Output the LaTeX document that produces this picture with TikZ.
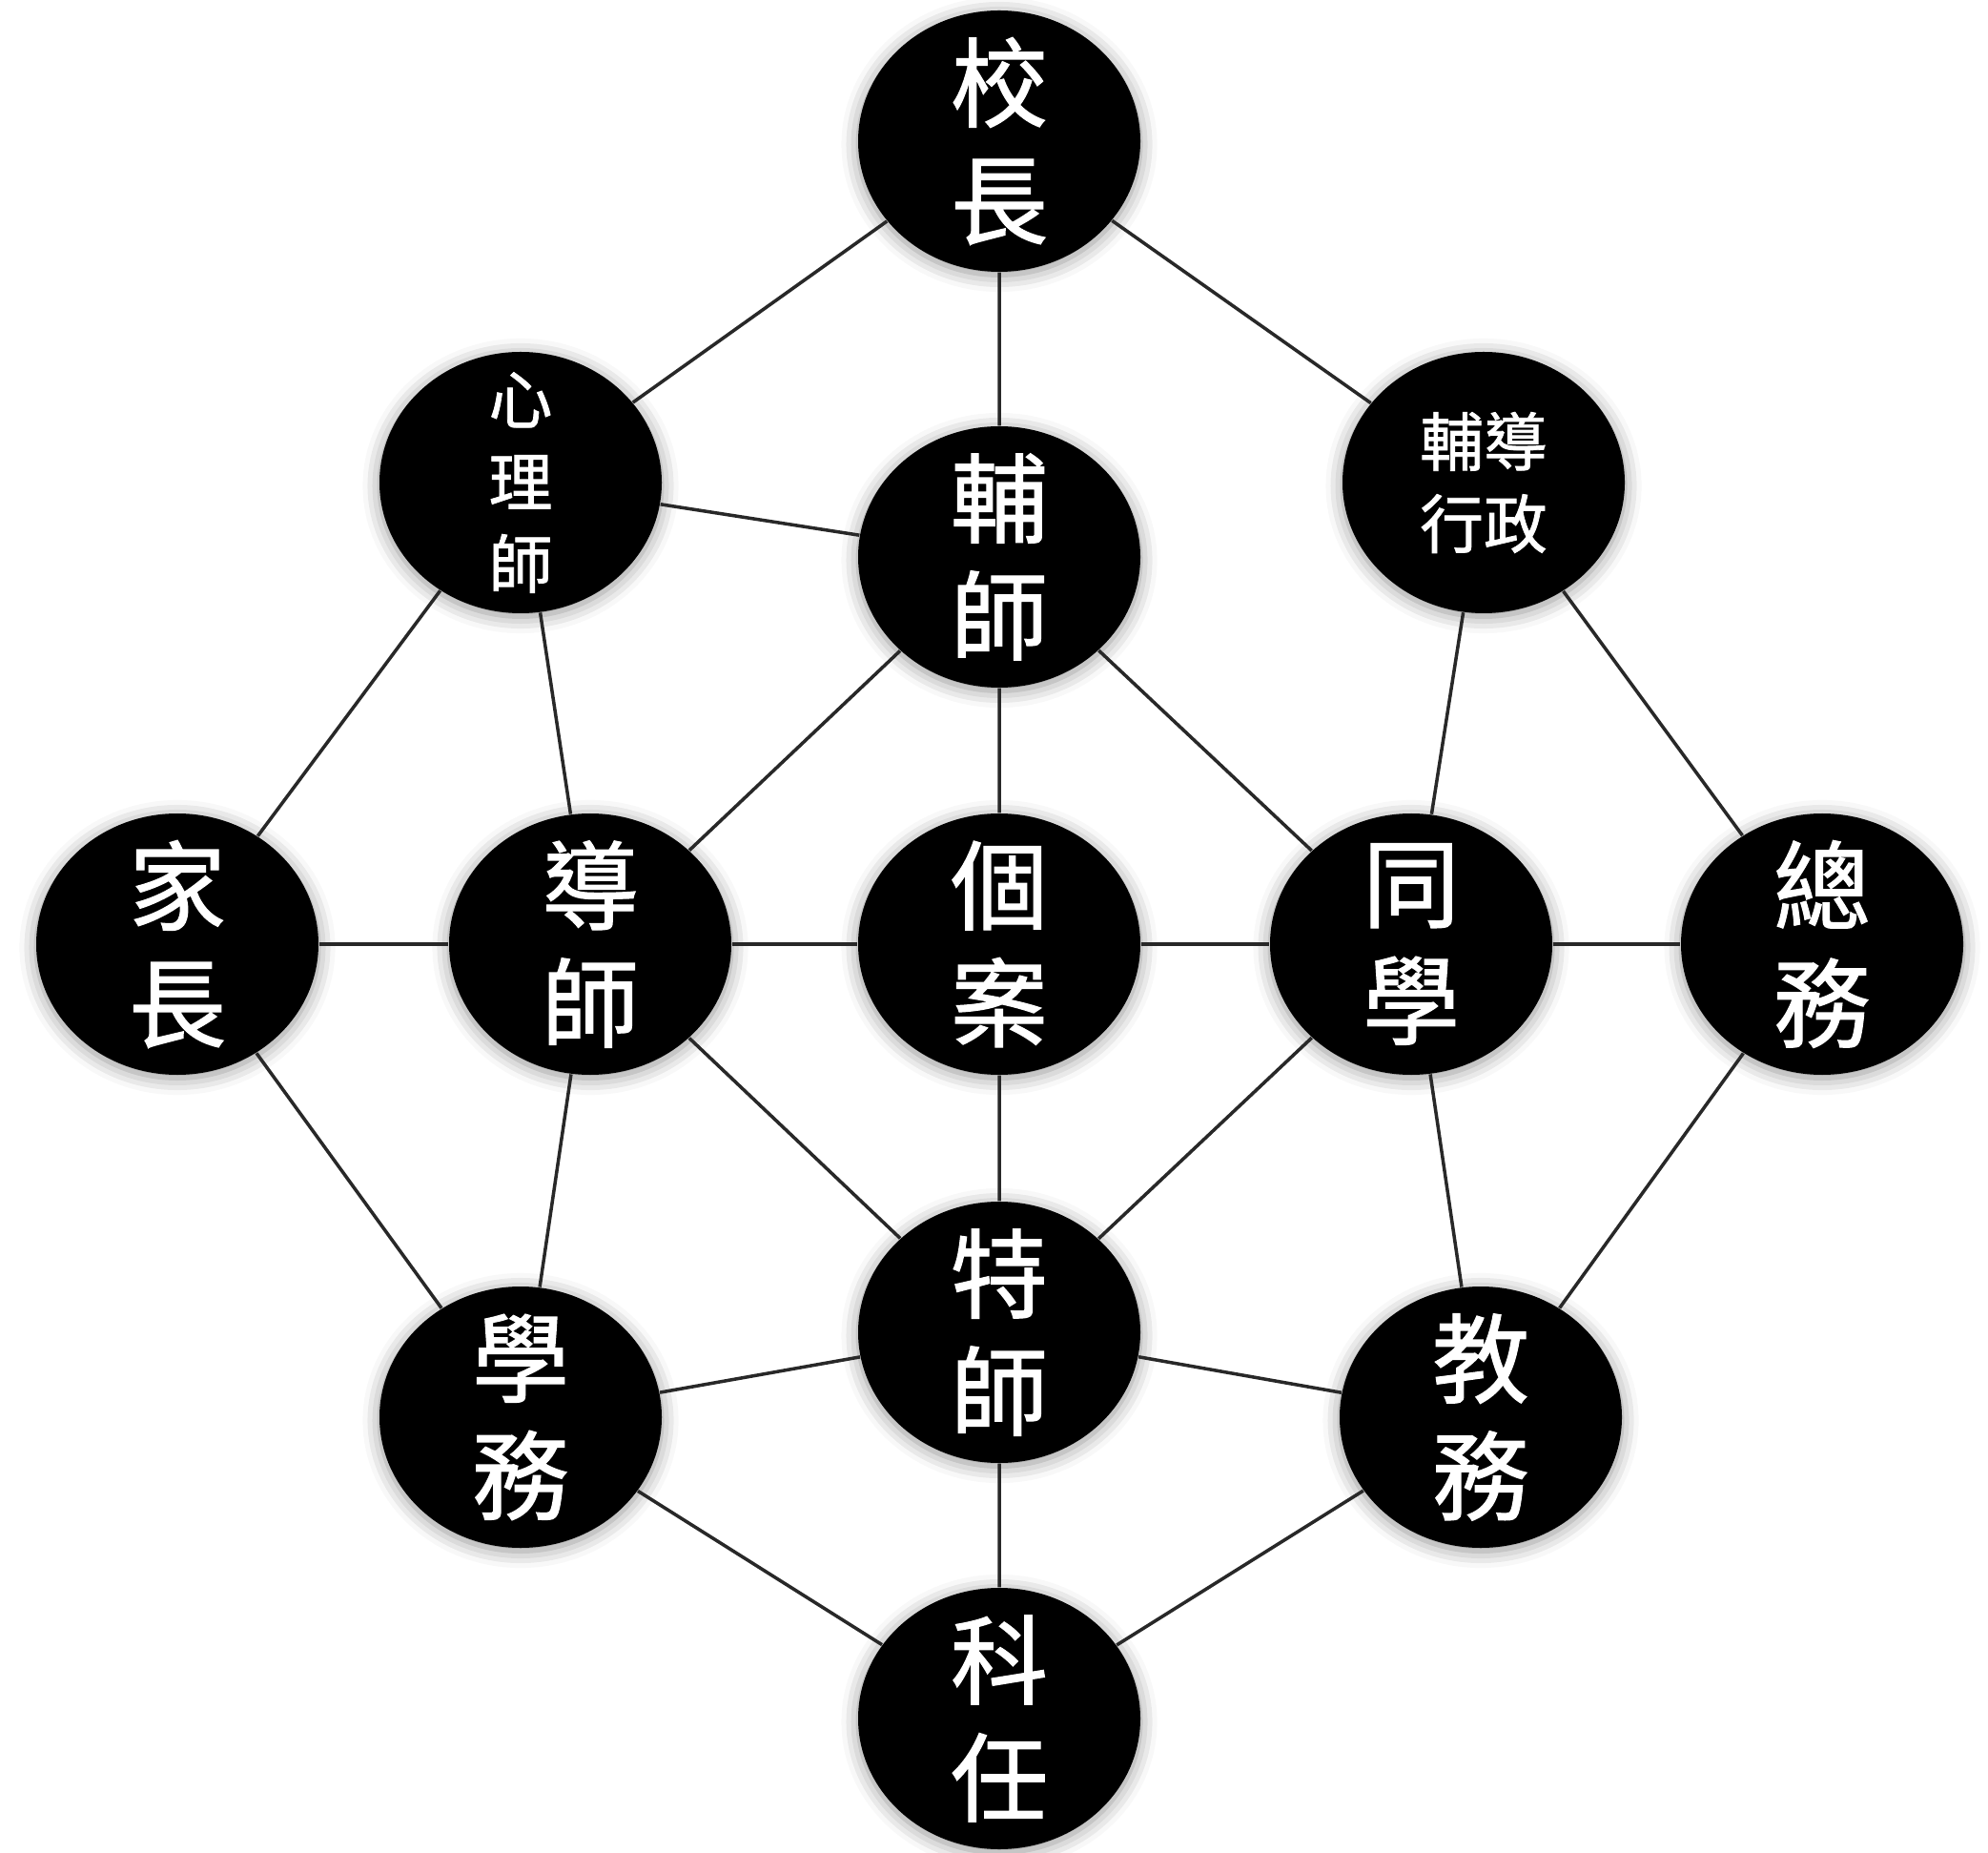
\documentclass[tikz,border=0pt]{standalone}
\usepackage{fontspec}
\usepackage{xcolor}
\usepackage{tikz}
\usetikzlibrary{shapes.geometric, shadows.blur}
\setmainfont{Noto Sans CJK TC}[FakeBold=1.2]
\definecolor{rolefill}{RGB}{0, 0, 0}
\definecolor{linkgray}{RGB}{40, 40, 40}

\begin{document}
\begin{tikzpicture}[
        rolebase/.style={ellipse, fill=rolefill, minimum width=2.96cm, minimum height=2.74cm, inner sep=0pt,
                         blur shadow={shadow xshift=0pt, shadow yshift=-1pt, shadow blur radius=5pt, shadow opacity=45}},
        rolename/.style={text=white, align=center, inner sep=0pt, font=\fontsize{29pt}{35pt}\selectfont},
        smallname/.style={font=\fontsize{19pt}{24.5pt}\selectfont},
        role/.style={rolebase, label={[rolename]center:#1}},
        smallrole/.style={rolebase, label={[rolename, smallname]center:#1}},
        link/.style={draw=linkgray, line width=1pt}
    ]
            \useasboundingbox (0,0) rectangle (20.85,19.42);
            \node[role={校\\長}] (principal) at (10.48,17.94) {};
            \node[smallrole={心\\理\\師}] (psych) at (5.46,14.36) {};
            \node[role={輔\\師}] (counselor) at (10.48,13.58) {};
            \node[smallrole={輔導\\行政}] (guidance) at (15.56,14.36) {};
            \node[role={家\\長}] (parent) at (1.86,9.52) {};
            \node[role={導\\師}] (mentor) at (6.19,9.52) {};
            \node[role={個\\案}] (case) at (10.48,9.52) {};
            \node[role={同\\學}] (classmate) at (14.80,9.52) {};
            \node[role={總\\務}] (general) at (19.11,9.52) {};
            \node[role={特\\師}] (special) at (10.48,5.45) {};
            \node[role={學\\務}] (discipline) at (5.46,4.56) {};
            \node[role={教\\務}] (academic) at (15.53,4.56) {};
            \node[role={科\\任}] (subject) at (10.48,1.40) {};

            \draw[link] (principal) -- (psych) (principal) -- (counselor) (principal) -- (guidance);
            \draw[link] (psych) -- (counselor) (psych) -- (parent) (psych) -- (mentor);
            \draw[link] (counselor) -- (mentor) (counselor) -- (case) (counselor) -- (classmate);
            \draw[link] (guidance) -- (classmate) (guidance) -- (general);
            \draw[link] (parent) -- (mentor) (mentor) -- (case) (case) -- (classmate) (classmate) -- (general);
            \draw[link] (parent) -- (discipline) (mentor) -- (discipline) (mentor) -- (special);
            \draw[link] (case) -- (special) (classmate) -- (special) (classmate) -- (academic) (general) -- (academic);
            \draw[link] (discipline) -- (special) (special) -- (academic);
            \draw[link] (discipline) -- (subject) (special) -- (subject) (academic) -- (subject);
        \end{tikzpicture}
\end{document}
